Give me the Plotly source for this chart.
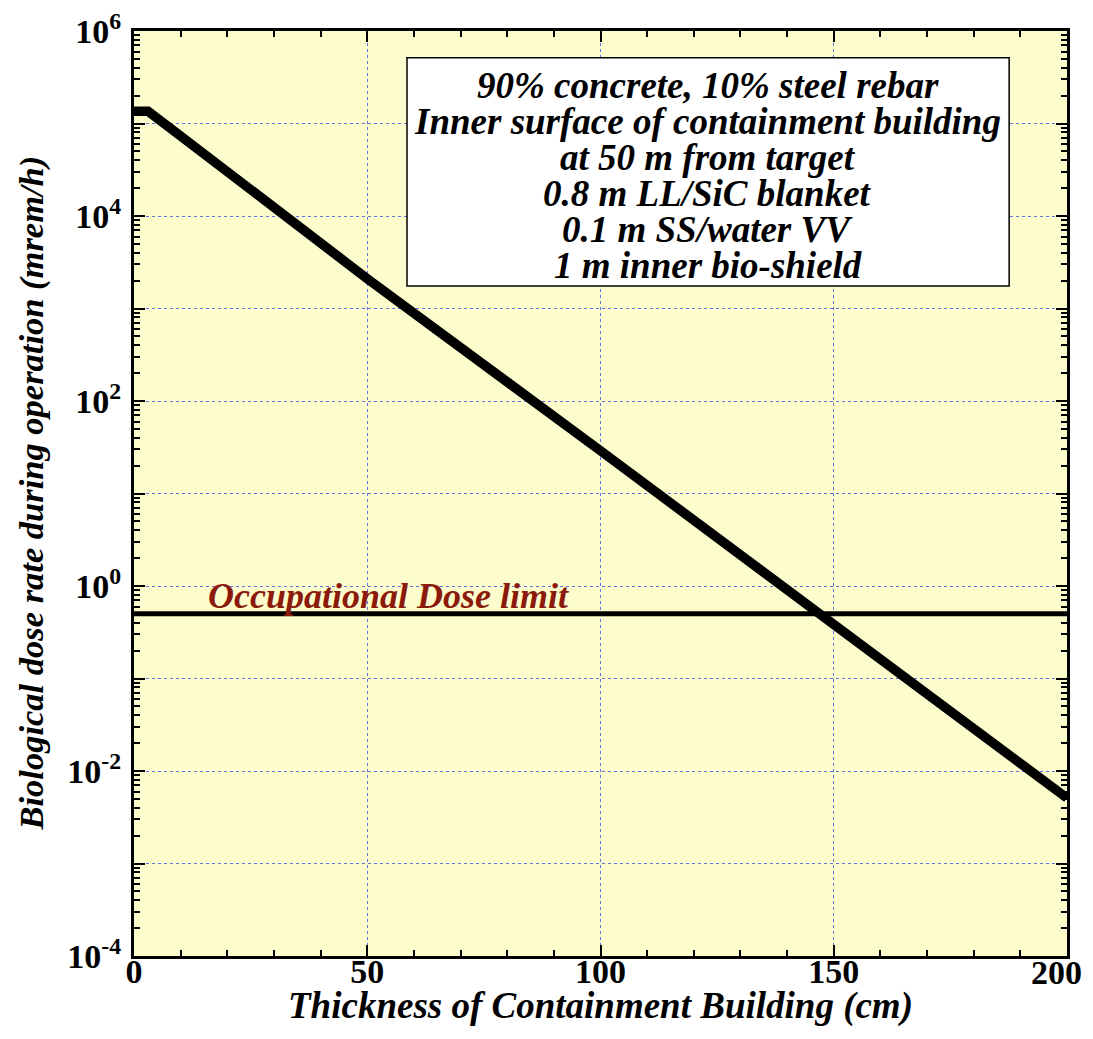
import numpy as np
import plotly.graph_objects as go

# Data
thickness_cm = [0, 3, 9, 32, 50, 100, 150, 200]
dose_rate = [1.36e5, 1.36e5, 8.0e4, 1.0e4, 2.1e3, 29, 0.39, 0.0051]
dose_limit = 0.5
limit_x = [0, 200]

x_ticks = [0, 50, 100, 150, 200]
x_labels = ["0", "50", "100", "150", ""]   # last label drawn separately so it stays inside the page
last_x_label = "200"
y_decades = [-4, -3, -2, -1, 0, 1, 2, 3, 4, 5, 6]
y_labels = ["10<sup>%d</sup>" % d if d % 2 == 0 else "" for d in y_decades]

box_lines = ["90% concrete, 10% steel rebar",
             "Inner surface of containment building",
             "at 50 m from target",
             "0.8 m LL/SiC blanket",
             "0.1 m SS/water VV",
             "1 m inner bio-shield"]

FONT = "Liberation Serif"
GRID = "#5f74e4"

fig = go.Figure()
fig.add_trace(go.Scatter(x=limit_x, y=[dose_limit, dose_limit], mode="lines",
                         line=dict(color="black", width=5), showlegend=False))
fig.add_trace(go.Scatter(x=thickness_cm, y=dose_rate, mode="lines",
                         line=dict(color="black", width=9.5), showlegend=False))

minor_y = [m * 10 ** d for d in y_decades[:-1] for m in range(2, 10)]

fig.update_xaxes(range=[0, 200], tickvals=x_ticks, ticktext=x_labels, automargin=False,
                 ticks="inside", ticklen=11, tickwidth=2, tickcolor="black",
                 showline=True, linecolor="black", linewidth=3, mirror="ticks",
                 showgrid=True, gridcolor=GRID, gridwidth=1, griddash="3px,3px",
                 zeroline=False, ticklabeloverflow="allow", ticklabelstandoff=-17,
                 minor=dict(ticks="inside", ticklen=6, tickwidth=2, tickcolor="black",
                            dtick=10, tick0=0, showgrid=False),
                 tickfont=dict(family=FONT, size=34, color="black", weight="bold"))
fig.update_yaxes(type="log", range=[-4, 6], automargin=False,
                 tickvals=[10.0 ** d for d in y_decades], ticktext=y_labels,
                 ticks="inside", ticklen=11, tickwidth=2, tickcolor="black",
                 showline=True, linecolor="black", linewidth=3, mirror="ticks",
                 showgrid=True, gridcolor=GRID, gridwidth=1, griddash="3px,3px",
                 zeroline=False, ticklabeloverflow="allow", ticklabelstandoff=3,
                 minor=dict(ticks="inside", ticklen=6, tickwidth=2, tickcolor="black",
                            tickvals=minor_y, showgrid=False),
                 tickfont=dict(family=FONT, size=34, color="black", weight="bold"))

fig.add_annotation(x=x_ticks[-1], y=0, xref="x", yref="paper", xanchor="right",
                   yanchor="middle", xshift=17, yshift=-16, showarrow=False,
                   text="<b>%s</b>" % last_x_label,
                   font=dict(family=FONT, size=34, color="black"))

# axis titles
fig.add_annotation(x=0.5, y=0, xref="paper", yref="paper", yshift=-50,
                   xanchor="center", yanchor="middle", showarrow=False,
                   text="<b><i>Thickness of Containment Building (cm)</i></b>",
                   font=dict(family=FONT, size=37, color="black"))
fig.add_annotation(x=0, y=0.5, xref="paper", yref="paper", xshift=-103,
                   xanchor="center", yanchor="middle", showarrow=False, textangle=-90,
                   text="<b><i>Biological dose rate during operation (mrem/h)</i></b>",
                   font=dict(family=FONT, size=34.5, color="black"))

fig.add_annotation(x=15.4, y=np.log10(dose_limit), xref="x", yref="y",
                   xanchor="left", yanchor="bottom", yshift=-4, showarrow=False,
                   text="<b><i>Occupational Dose limit</i></b>",
                   font=dict(family=FONT, size=36, color="#8b1a0a"))

# text box
fig.add_shape(type="rect", xref="paper", yref="paper",
              x0=0.2926, x1=0.938, y0=0.7243, y1=0.971,
              fillcolor="white", line=dict(color="black", width=1.5), layer="above")
line_y = [0.941, 0.902, 0.863, 0.824, 0.785, 0.746]
for txt, yy in zip(box_lines, line_y):
    fig.add_annotation(x=0.615, y=yy, xref="paper", yref="paper",
                       xanchor="center", yanchor="middle", showarrow=False,
                       text="<b><i>%s</i></b>" % txt,
                       font=dict(family=FONT, size=37, color="black"))

fig.update_layout(width=1077, height=1023,
                  margin=dict(l=126, r=18, t=23, b=75),
                  plot_bgcolor="#fcfccc", paper_bgcolor="white",
                  font=dict(family=FONT))
fig.write_html("out.html")
